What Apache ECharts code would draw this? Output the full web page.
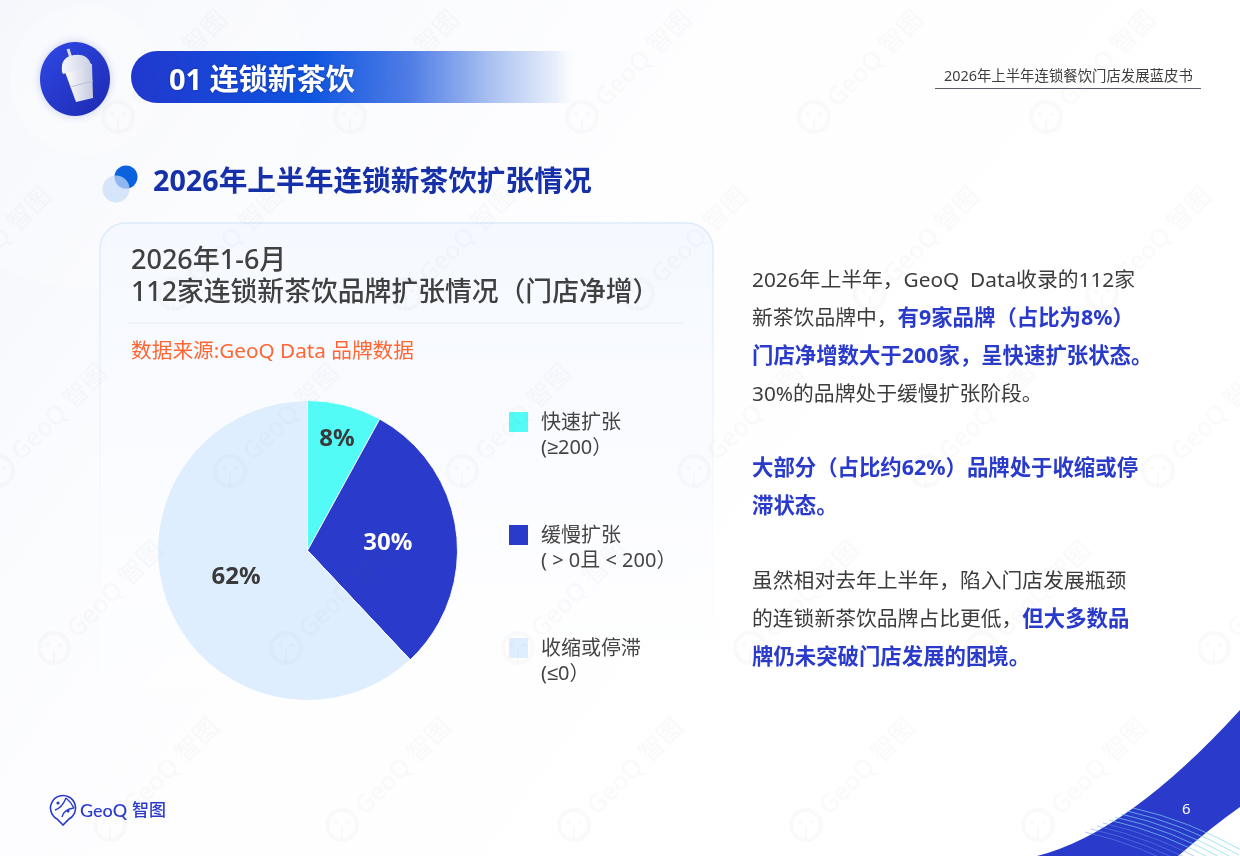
<!DOCTYPE html>
<html><head><meta charset="utf-8">
<style>html,body{margin:0;padding:0;background:#fff}#c{width:1240px;height:856px}</style>
<script src="https://cdn.jsdelivr.net/npm/echarts@6/dist/echarts.min.js"></script>
</head><body><div id="c"></div>
<script>
const categories = ['快速扩张', '缓慢扩张', '收缩或停滞'];
const ranges = ['(≥200）', '( > 0且 < 200）', '(≤0）'];
const shareValues = [8, 30, 62];
const sliceColors = ['#52FBF6', '#2A3BCB', '#DFEEFF'];
const sectionTitle = '01 连锁新茶饮';
const pageTitle = '2026年上半年连锁新茶饮扩张情况';
const bookTitle = '2026年上半年连锁餐饮门店发展蓝皮书';
const cardTitle1 = '2026年1-6月';
const cardTitle2 = '112家连锁新茶饮品牌扩张情况（门店净增）';
const sourceText = '数据来源:GeoQ Data 品牌数据';
const bodyLines = [
  '{n|2026年上半年，GeoQ  Data收录的112家}',
  '{n|新茶饮品牌中，}{b|有9家品牌（占比为8%）}',
  '{b|门店净增数大于200家，呈快速扩张状态。}',
  '{n|30%的品牌处于缓慢扩张阶段。}',
  '',
  '{b|大部分（占比约62%）品牌处于收缩或停}',
  '{b|滞状态。}',
  '',
  '{n|虽然相对去年上半年，陷入门店发展瓶颈}',
  '{n|的连锁新茶饮品牌占比更低，}{b|但大多数品}',
  '{b|牌仍未突破门店发展的困境。}'
];
const FONT = '"Noto Sans","Liberation Sans","Noto Sans CJK SC",sans-serif';
const BLUE = '#2A3BCB';

function grad(x, y, x2, y2, stops) {
  return { type: 'linear', x, y, x2, y2, colorStops: stops.map(s => ({ offset: s[0], color: s[1] })) };
}
function label(x, y, text, size, color, weight, extra) {
  return { type: 'text', x, y, silent: true, style: Object.assign({ text, fill: color, fontSize: size, fontWeight: weight || 'normal', fontFamily: FONT, verticalAlign: 'middle', align: 'left' }, extra || {}) };
}
let pathCount = 0;
function svg(d, style, z) {
  const name = 'deco' + (pathCount++);
  echarts.graphic.registerShape(name, echarts.graphic.extendPath(d, {}));
  return { type: name, silent: true, z: z || 0, style };
}

/* page furniture */
const bg = [
  { type: 'rect', z: -10, shape: { x: 0, y: 0, width: 1240, height: 856 }, style: { fill: grad(0, 0, 0.75, 0.8, [[0, '#F2F5FB'], [0.25, '#FAFBFE'], [0.55, '#FEFEFF'], [1, '#FFFFFF']]) } },
  { type: 'circle', z: -9, shape: { cx: 95, cy: 80, r: 210 }, style: { fill: 'rgba(255,255,255,0.25)' } },
  { type: 'circle', z: -9, shape: { cx: 85, cy: 80, r: 75 }, style: { fill: 'rgba(255,255,255,0.3)' } },
  /* header icon */
  { type: 'ellipse', z: 1, shape: { cx: 75, cy: 79, rx: 35, ry: 37 }, style: { fill: grad(0, 0, 1, 1, [[0, '#2F48E6'], [1, '#1C2AB0']]), shadowBlur: 8, shadowColor: 'rgba(40,60,200,0.25)' } },
  { type: 'line', z: 2, shape: { x1: 68, y1: 49, x2: 71, y2: 58 }, style: { stroke: '#D9DDEC', lineWidth: 3 } },
  { type: 'polygon', z: 2, shape: { points: [[65, 72], [92, 64], [93, 98], [76, 102]] }, style: { fill: grad(0, 0, 1, 0, [[0, '#FFFFFF'], [1, '#C4CAE0']]) } },
  svg('M62 72 Q60 57 74 55 Q87 53 91 64 L92 66 L63 74 Z', { fill: grad(0, 0, 1, 0, [[0, '#F6F7FC'], [1, '#C9CEE3']]) }, 2),
  { type: 'line', z: 3, shape: { x1: 70, y1: 87, x2: 93, y2: 81 }, style: { stroke: '#B9BFD8', lineWidth: 1 } },
  /* section pill */
  { type: 'rect', z: 1, shape: { x: 131, y: 51, width: 449, height: 52, r: [26, 0, 0, 26] }, style: { fill: grad(0, 0, 1, 0, [[0, '#2138CE'], [0.4, '#0F55E0'], [0.62, '#4F7DE6'], [0.8, '#A9C0F0'], [0.95, '#EAF0FB'], [1, 'rgba(255,255,255,0)']]) } },
  Object.assign(label(169, 82, sectionTitle, 29, '#FFFFFF', 'bold', { textShadowBlur: 3, textShadowColor: 'rgba(0,0,60,0.35)' }), { z: 3 }),
  label(944, 77, bookTitle, 14.4, '#3E3E3E'),
  { type: 'line', shape: { x1: 935, y1: 88.5, x2: 1201, y2: 88.5 }, style: { stroke: '#5A5F6A', lineWidth: 1 } },
  /* page title */
  { type: 'circle', shape: { cx: 126, cy: 177, r: 11.5 }, style: { fill: '#0A62DF' } },
  { type: 'circle', shape: { cx: 116, cy: 189, r: 13.5 }, style: { fill: 'rgba(200,220,250,0.7)' } },
  label(153, 183, pageTitle, 28.7, '#1530A8', 'bold'),
  /* card */
  { type: 'rect', shape: { x: 100, y: 223, width: 613, height: 490, r: 26 }, style: { fill: grad(0, 0, 0, 1, [[0, '#F5F9FF'], [0.55, '#FBFCFF'], [1, 'rgba(255,255,255,0.2)']]), stroke: grad(0, 0, 0, 1, [[0, '#DCEAFB'], [0.5, 'rgba(225,238,252,0.3)'], [1, 'rgba(255,255,255,0)']]), lineWidth: 1.5 } },
  label(131, 261, cardTitle1, 27, '#404040', 500),
  label(131, 293, cardTitle2, 26.8, '#404040', 500),
  { type: 'line', shape: { x1: 128, y1: 323, x2: 685, y2: 323 }, style: { stroke: '#E7EDF6', lineWidth: 1 } },
  label(131, 352, sourceText, 20.7, '#FF6633'),
  /* swoosh */
  svg('M1037 856 Q1128 833 1240 710 L1240 807 Q1213 826 1178 856 Z', { fill: BLUE }),
  Object.assign(label(1182, 810, '6', 15, '#FFFFFF'), { z: 2 }),
  /* logo */
  svg('M63 825 L57 819 A12.5 12.5 0 1 1 69 819 Z', { fill: 'none', stroke: BLUE, lineWidth: 1.6 }),
  svg('M55 810 Q62 808 66 798 M62 817 Q64 809 74 808 M66 798 Q71 802 74 808', { fill: 'none', stroke: BLUE, lineWidth: 1.4 }),
  { type: 'circle', shape: { cx: 58, cy: 803, r: 1.6 }, style: { fill: BLUE } },
  { type: 'circle', shape: { cx: 68, cy: 811, r: 1.6 }, style: { fill: BLUE } },
  label(80, 811, 'GeoQ', 18, BLUE, 500, { fontFamily: 'Lato,"Noto Sans",sans-serif' }),
  label(132, 811, '智图', 17, BLUE, 500)
];
/* fine lines across the swoosh */
for (let i = 0; i < 9; i++) {
  const sx = 1133 - i * 6, sy = 808 + i * 3;
  bg.push(svg(`M${sx} ${sy} Q${sx + 55} ${sy + 12} ${sx + 112} ${sy + 44}`, { fill: 'none', stroke: i < 5 ? 'rgba(120,215,235,0.75)' : 'rgba(90,150,230,0.55)', lineWidth: 0.9 }, 1));
}
/* body copy */
const rich = {
  n: { fontSize: 20.8, fontFamily: FONT, fill: '#3C3C3C', color: '#3C3C3C' },
  b: { fontSize: 21.4, fontFamily: FONT, fontWeight: 'bold', fill: BLUE, color: BLUE }
};
const bodyY = [281, 319, 357, 395, 432, 469, 507, 544, 582, 620, 658];
bodyLines.forEach((t, i) => { if (t) bg.push({ type: 'text', x: 752, y: bodyY[i], silent: true, style: { text: t, rich, fontFamily: FONT, fontSize: 20.8, verticalAlign: 'middle' } }); });

/* watermark */
const wm = [];
const INK = 'rgba(110,110,120,0.035)';
for (let row = -1; row < 6; row++) {
  for (let col = -2; col < 7; col++) {
    const ox = 118 + row * 56 + col * 232, oy = 117 + row * 177;
    if (ox < -120 || ox > 1280) continue;
    wm.push({ type: 'circle', z: 50, silent: true, shape: { cx: ox, cy: oy, r: 15 }, style: { fill: 'none', stroke: INK, lineWidth: 4 } });
    wm.push({ type: 'line', z: 50, silent: true, shape: { x1: ox, y1: oy + 2, x2: ox, y2: oy + 14 }, style: { stroke: INK, lineWidth: 2 } });
    wm.push({ type: 'circle', z: 50, silent: true, shape: { cx: ox - 6, cy: oy - 3, r: 2 }, style: { fill: INK } });
    wm.push({ type: 'circle', z: 50, silent: true, shape: { cx: ox + 6, cy: oy - 3, r: 2 }, style: { fill: INK } });
    wm.push({ type: 'text', z: 50, silent: true, x: ox + 18, y: oy - 14, rotation: Math.PI / 4, originX: 0, originY: 0, style: { text: 'GeoQ 智图', fontSize: 25, fontFamily: FONT, fontWeight: 500, fill: INK, verticalAlign: 'middle' } });
  }
}

const chart = echarts.init(document.getElementById('c'), null, { renderer: 'canvas', width: 1240, height: 856 });
chart.setOption({
  animation: false,
  graphic: { elements: bg.concat(wm) },
  legend: {
    orient: 'vertical', left: 509, top: 411, padding: 0, itemWidth: 19, itemHeight: 50, itemGap: 63,
    selectedMode: false, data: categories,
    icon: 'path://M0 0H0 M0 1H19V21H0Z M0 50H0',
    itemStyle: { borderWidth: 0 },
    textStyle: { fontSize: 20, lineHeight: 25, color: '#444', fontFamily: FONT, padding: [0, 0, 0, 8] },
    formatter: n => n + '\n' + ranges[categories.indexOf(n)]
  },
  series: [{
    type: 'pie', center: [307.5, 550.5], radius: 150, startAngle: 90, clockwise: true,
    labelLine: { show: false },
    itemStyle: { borderColor: 'rgba(255,255,255,0.9)', borderWidth: 1 },
    emphasis: { disabled: true },
    label: { position: 'inside', formatter: '{c}%', fontSize: 24, fontWeight: 'bold', fontFamily: FONT, color: '#3A3A3A', textBorderWidth: 0 },
    data: categories.map((name, i) => ({
      name, value: shareValues[i],
      itemStyle: { color: sliceColors[i] },
      label: i === 0 ? { offset: [10, -36] } : i === 1 ? { color: '#FFFFFF', offset: [3, 2] } : { offset: [1, -2] }
    }))
  }]
});
</script></body></html>
